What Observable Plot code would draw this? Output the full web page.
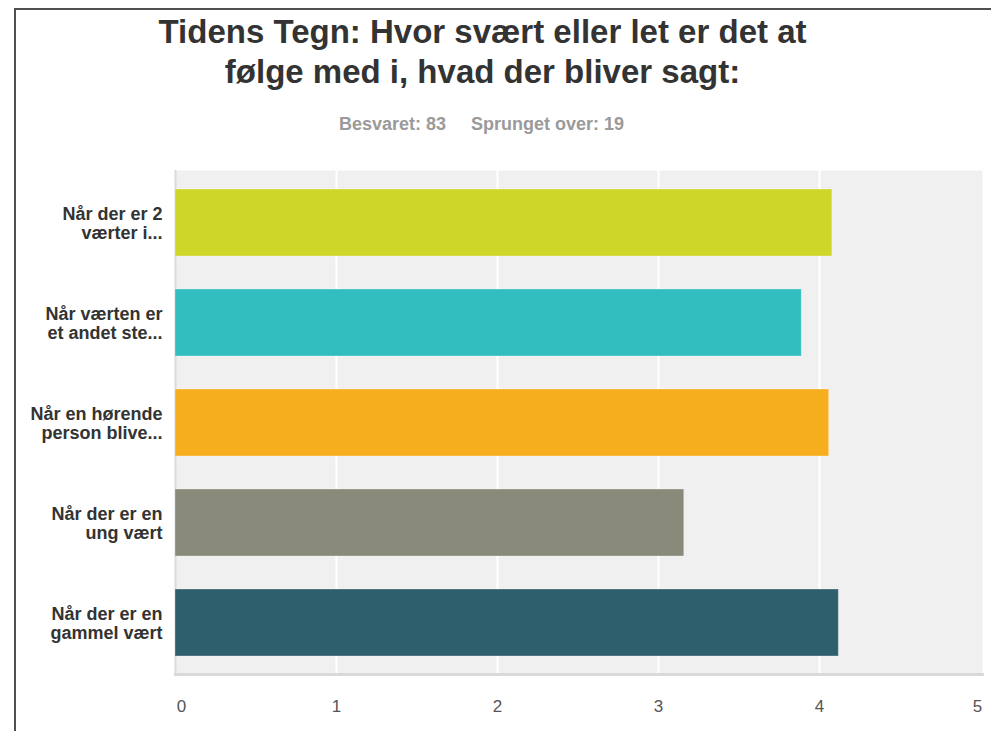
<!DOCTYPE html>
<html>
<head>
<meta charset="utf-8">
<script src="https://cdn.jsdelivr.net/npm/d3@7"></script>
<script src="https://cdn.jsdelivr.net/npm/@observablehq/plot@0.6"></script>
<style>
  html, body { margin: 0; padding: 0; background: #fff; }
  body { width: 991px; height: 731px; position: relative; overflow: hidden; font-family: "Liberation Sans", Arial, Helvetica, sans-serif; }
  #frame { position: absolute; left: 14px; top: 8px; right: -10px; bottom: -10px; border-top: 2px solid #4f4f4f; border-left: 2px solid #4f4f4f; }
  #title { position: absolute; left: 0; width: 965px; top: 12px; text-align: center; font-weight: bold; font-size: 33px; line-height: 40px; color: #333; }
  #subtitle { position: absolute; left: 0; width: 963px; top: 113px; text-align: center; font-weight: bold; font-size: 18px; line-height: 22px; color: #9a9a9a; white-space: pre; }
  #subtitle span + span { margin-left: 25px; }
  #chart { position: absolute; left: 0; top: 150px; }
</style>
</head>
<body>
<div id="frame"></div>
<div id="title"></div>
<div id="subtitle"></div>
<div id="chart"></div>
<script>
const titleLines = ["Tidens Tegn: Hvor svært eller let er det at", "følge med i, hvad der bliver sagt:"];
const subtitleParts = ["Besvaret: 83", "Sprunget over: 19"];

const categories = [
  "Når der er 2 værter i...",
  "Når værten er et andet ste...",
  "Når en hørende person blive...",
  "Når der er en ung vært",
  "Når der er en gammel vært"
];
const labelLines = [
  ["Når der er 2", "værter i..."],
  ["Når værten er", "et andet ste..."],
  ["Når en hørende", "person blive..."],
  ["Når der er en", "ung vært"],
  ["Når der er en", "gammel vært"]
];
const values = [4.08, 3.89, 4.06, 3.16, 4.12];
const colors = ["#cdd629", "#32bdbf", "#f6ae1f", "#898a79", "#2e5f6c"];
const xTicks = [0, 1, 2, 3, 4, 5];

document.getElementById("title").innerHTML = titleLines.join("<br>");
const sub = document.getElementById("subtitle");
subtitleParts.forEach(t => { const s = document.createElement("span"); s.textContent = t; sub.appendChild(s); });

const data = categories.map((c, i) => ({cat: c, value: values[i]}));
const labelFor = new Map(categories.map((c, i) => [c, labelLines[i].join("\n")]));

const axisStyle = {tickSize: 0, tickPadding: 25, fontSize: 17, fill: "#555", tickFormat: d => String(d)};

const chart = Plot.plot({
  width: 991,
  height: 581,
  marginTop: 20,
  marginBottom: 57,
  marginLeft: 175,
  marginRight: 9,
  style: {fontFamily: "'Liberation Sans', Arial, Helvetica, sans-serif", background: "transparent"},
  x: {domain: [0, 5], range: [175, 980], label: null},
  y: {domain: categories, paddingInner: 0.33, paddingOuter: 0.165, label: null},
  color: {domain: categories, range: colors},
  marks: [
    Plot.frame({fill: "#f0f0f0", stroke: null}),
    Plot.gridX([1, 2, 3, 4], {stroke: "#ffffff", strokeOpacity: 1, strokeWidth: 2}),
    Plot.ruleX([0], {stroke: "#dadada", strokeWidth: 2}),
    Plot.frame({anchor: "bottom", stroke: "#d9d9d9", strokeWidth: 3}),
    Plot.barX(data, {x: "value", y: "cat", fill: "cat", stroke: "#ffffff", strokeOpacity: 0.3, strokeWidth: 1}),
    Plot.axisX(xTicks.slice(1, -1), axisStyle),
    Plot.axisX([xTicks[0]], {...axisStyle, dx: 6}),
    Plot.axisX([xTicks[xTicks.length - 1]], {...axisStyle, dx: -3}),
    Plot.axisY({tickSize: 0, tickPadding: 13, tickFormat: d => labelFor.get(d), fontSize: 18, fontWeight: "bold", fill: "#333", lineHeight: 1.08})
  ]
});
document.getElementById("chart").appendChild(chart);
</script>
</body>
</html>
